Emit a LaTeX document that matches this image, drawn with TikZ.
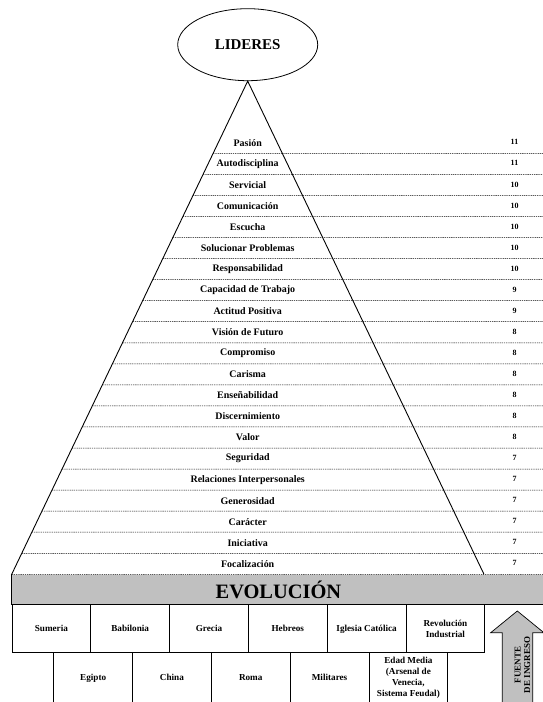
\documentclass[tikz,border=0pt]{standalone}
\usepackage{fontspec}
\setmainfont{Liberation Serif}
\usetikzlibrary{shapes, positioning, calc}
\definecolor{bargray}{RGB}{192,192,192}
\tikzset{
   mytop/.style={draw, ellipse, line width=.8pt, minimum width=140bp, minimum height=72bp, inner sep=0pt, font=\fontsize{15}{17}\selectfont\bfseries},
   myrow/.style={inner sep=0pt, font=\fontsize{10}{12}\selectfont\bfseries},
   mynum/.style={inner sep=0pt, font=\fontsize{8}{9}\selectfont\bfseries},
   mydash/.style={draw, line width=.5pt, dash pattern=on 1.3pt off .9pt},
   mybar/.style={fill=bargray, inner sep=0pt, minimum width=533bp, minimum height=30bp, font=\fontsize{20.5}{22}\selectfont\bfseries},
   mybox/.style={draw, line width=.8pt, minimum width=78.8bp, minimum height=48.4bp, inner sep=1pt, align=center, font=\fontsize{9.2}{11}\selectfont\bfseries},
   mycell/.style={mybox, text height=1.6ex, text depth=.45ex},
   mylow/.style={mybox, minimum height=51bp},
   mylowcell/.style={mylow, text height=1.6ex, text depth=.45ex},
   myarrow/.style={draw, fill=bargray, line width=.7pt}
}

\begin{document}
\begin{tikzpicture}[x=1bp, y=-1bp]
  \useasboundingbox (0,0) rectangle (543,702);
  \clip (0,0) rectangle (543,702);

  % pyramid
  \node[mytop] (lideres) at (247.7,44.7) {LIDERES};
  \coordinate (lfoot) at (11.7,574.3);
  \coordinate (rfoot) at (484,574.3);

  % evolution bar
  \node[mybar, anchor=north west] (evol) at (lfoot) {EVOLUCIÓN};
  \draw[line width=.8pt] (evol.north west) |- (evol.south east);

  \draw[line width=.9pt] (lfoot) -- (lideres.south) -- (rfoot);

  \foreach \lbl/\num [count=\i from 0] in {Pasión/11, Autodisciplina/11, Servicial/10,
      Comunicación/10, Escucha/10, Solucionar Problemas/10, Responsabilidad/10,
      Capacidad de Trabajo/9, Actitud Positiva/9, Visión de Futuro/8, Compromiso/8,
      Carisma/8, Enseñabilidad/8, Discernimiento/8, Valor/8, Seguridad/7,
      Relaciones Interpersonales/7, Generosidad/7, Carácter/7, Iniciativa/7,
      Focalización/7}{
    \node[myrow] (row\i) at (247.7,142.8+21.05*\i) {\lbl};
    \node[mynum] (num\i) at (514.5,142.3+21.05*\i) {\num};
    \coordinate (cutl\i) at (0,153.3+21.05*\i);
    \coordinate (cutr\i) at (545,153.3+21.05*\i);
    \draw[mydash] (intersection of lideres.south--lfoot and cutl\i--cutr\i) -- (cutr\i);
  }

  % civilisations
  \node[mycell] (sumeria) at (51.4,628.5) {Sumeria};
  \node[mycell, right=-\pgflinewidth of sumeria] (babilonia) {Babilonia};
  \node[mycell, right=-\pgflinewidth of babilonia] (grecia) {Grecia};
  \node[mycell, right=-\pgflinewidth of grecia] (hebreos) {Hebreos};
  \node[mycell, right=-\pgflinewidth of hebreos] (iglesia) {Iglesia Católica};
  \node[mybox, right=-\pgflinewidth of iglesia] (revolucion) {Revolución\\Industrial};

  \node[mylowcell] (egipto) at (93.15,678.2) {Egipto};
  \node[mylowcell, right=-\pgflinewidth of egipto] (china) {China};
  \node[mylowcell, right=-\pgflinewidth of china] (roma) {Roma};
  \node[mylowcell, right=-\pgflinewidth of roma] (militares) {Militares};
  \node[mylow, right=-\pgflinewidth of militares] (edad) {Edad Media\\(Arsenal de\\Venecia,\\Sistema Feudal)};

  % income arrow
  \draw[myarrow] (502.3,710) -- (502.3,632.7) -- (490.7,632.7) -- (517.3,611)
      -- (543.9,632.7) -- (532.7,632.7) -- (532.7,710) -- cycle;
  \node[rotate=90, align=center, inner sep=0pt, font=\fontsize{9}{9.5}\selectfont\bfseries] (fuente) at (522.5,665) {FUENTE\\DE INGRESO};
\end{tikzpicture}
\end{document}
